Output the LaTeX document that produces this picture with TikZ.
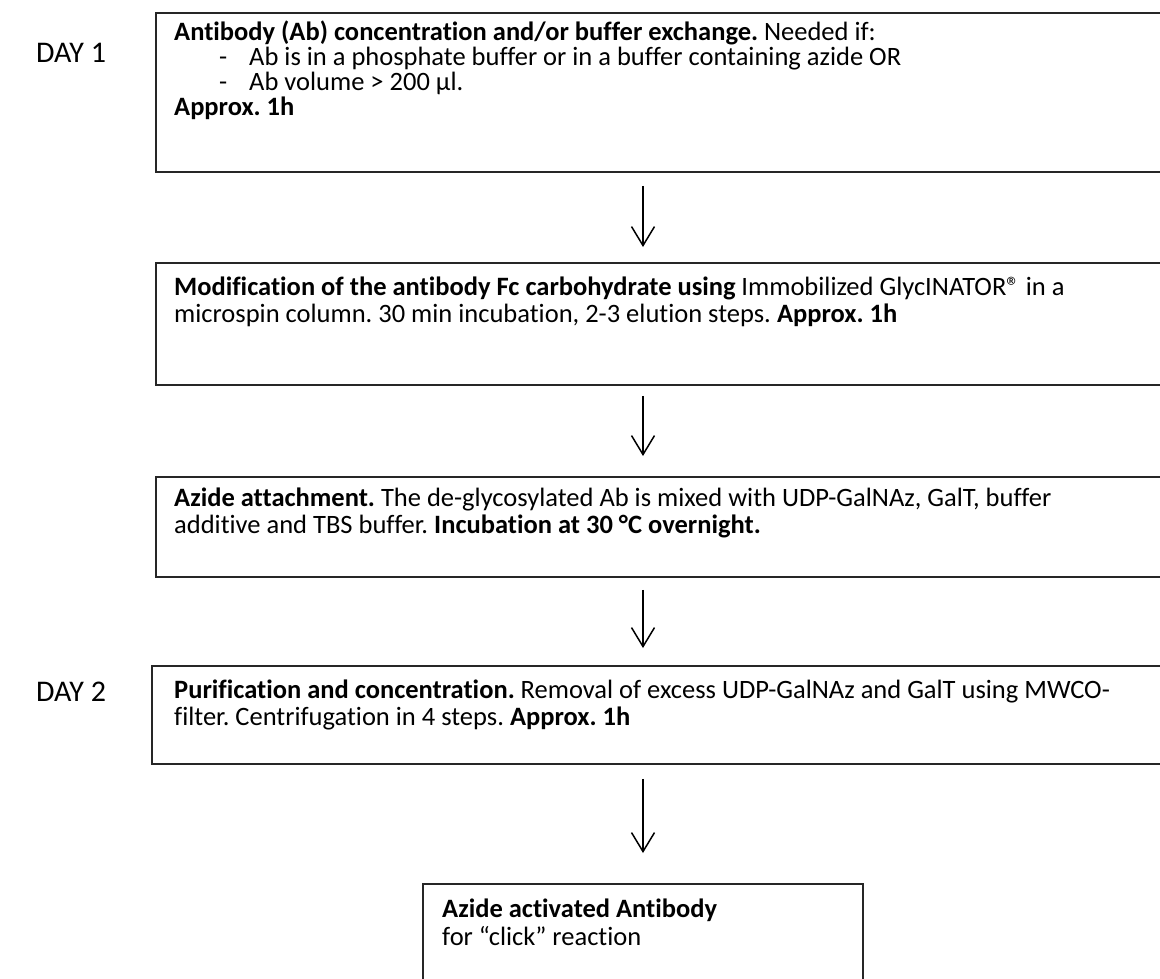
\documentclass[tikz,border=0pt]{standalone}
\usepackage{fontspec}
\setmainfont{Carlito}[Ligatures=NoCommon]
\usetikzlibrary{arrows.meta}
\frenchspacing
\begin{document}
\begin{tikzpicture}[x=1pt,y=-1pt,
  box/.style={draw=black!85, line width=1.8pt, anchor=north west, inner sep=0pt},
  ln/.style={anchor=base west, inner sep=0pt, font=\fontsize{26.5}{30}\selectfont},
  daylbl/.style={anchor=base west, inner sep=0pt, font=\fontsize{30}{34}\selectfont},
  arr/.style={line width=1.5pt, -{Straight Barb[length=19pt,width=23pt,line width=1.5pt]}}]
\useasboundingbox (0,0) rectangle (1160,978);
\clip (0,0) rectangle (1160,978);
\fill[white] (0,0) rectangle (1160,978);
\coordinate (ax) at (643,0);
% boxes
\node[box, minimum width=1020pt, minimum height=159pt] (b1) at (155,12) {};
\node[box, minimum width=1020pt, minimum height=122pt] (b2) at (155,262) {};
\node[box, minimum width=1020pt, minimum height=100pt] (b3) at (155,476) {};
\node[box, minimum width=1024pt, minimum height=98pt] (b4) at (151,665) {};
\node[box, minimum width=440pt, minimum height=120pt] (b5) at (422,883) {};
% box 1
\node[ln] (t1a) at (174,40) {\textbf{Antibody (Ab) concentration and/or buffer exchange.} Needed if:};
\node[ln] (t1b) at (219,65) {-};
\node[ln] (t1c) at (249,65) {Ab is in a phosphate buffer or in a buffer containing azide OR};
\node[ln] (t1d) at (219,90) {-};
\node[ln] (t1e) at (249,90) {Ab volume > 200 µl.};
\node[ln] (t1f) at (174,115) {\textbf{Approx. 1h}};
% box 2
\node[ln] (t2a) at (174,295) {\textbf{Modification of the antibody Fc carbohydrate using} Immobilized GlycINATOR® in a};
\node[ln] (t2b) at (174,322) {microspin column. 30 min incubation, 2-3 elution steps. \textbf{Approx. 1h}};
% box 3
\node[ln] (t3a) at (174,506) {\textbf{Azide attachment.} The de-glycosylated Ab is mixed with UDP-GalNAz, GalT, buffer};
\node[ln] (t3b) at (174,533) {additive and TBS buffer. \textbf{Incubation at 30 °C overnight.}};
% box 4
\node[ln] (t4a) at (174,698) {\textbf{Purification and concentration.} Removal of excess UDP-GalNAz and GalT using MWCO-};
\node[ln] (t4b) at (174,725) {filter. Centrifugation in 4 steps. \textbf{Approx. 1h}};
% box 5
\node[ln] (t5a) at (442,917) {\textbf{Azide activated Antibody}};
\node[ln] (t5b) at (442,945) {for “click” reaction};
% day labels
\node[daylbl] (d1) at (36,62) {DAY 1};
\node[daylbl] (d2) at (36,701) {DAY 2};
% arrows
\draw[arr] ([yshift=-13pt]b1.south -| ax) -- ([yshift=15pt]b2.north -| ax);
\draw[arr] ([yshift=-10pt]b2.south -| ax) -- ([yshift=20pt]b3.north -| ax);
\draw[arr] ([yshift=-12pt]b3.south -| ax) -- ([yshift=17pt]b4.north -| ax);
\draw[arr] ([yshift=-14pt]b4.south -| ax) -- ([yshift=30pt]b5.north -| ax);
\end{tikzpicture}
\end{document}
